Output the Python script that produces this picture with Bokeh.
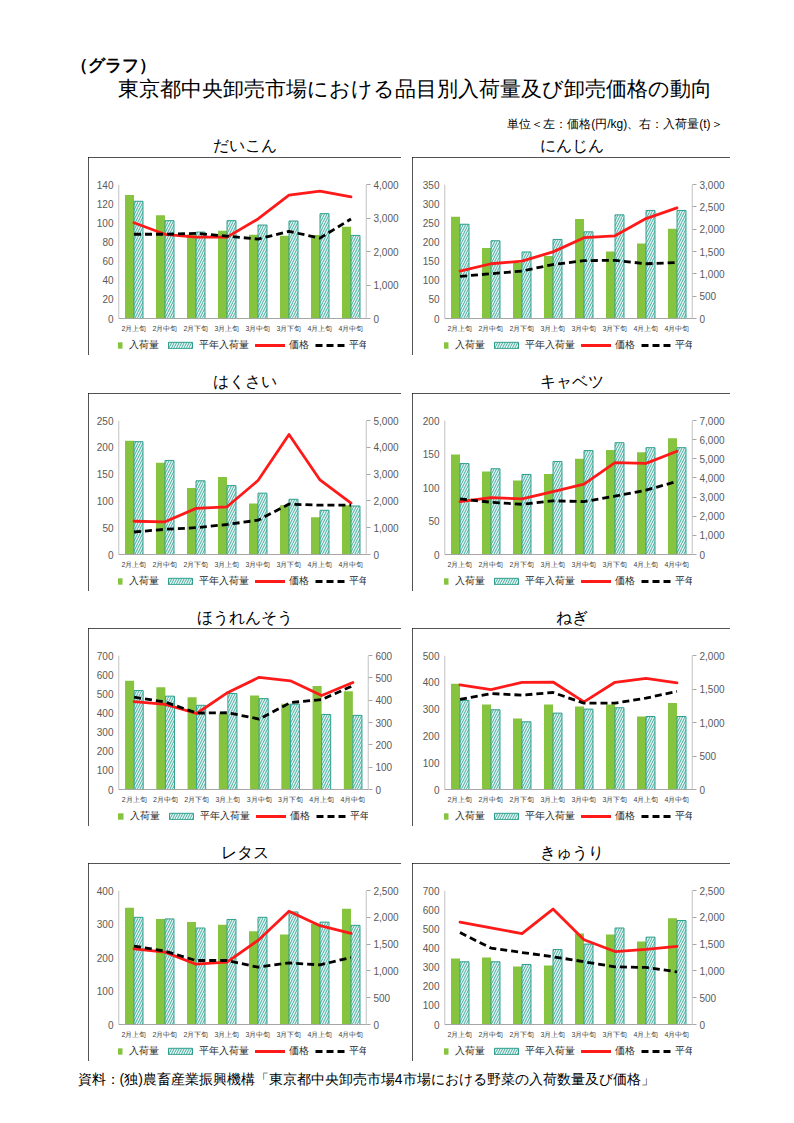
from bokeh.plotting import figure
from bokeh.models import (Range1d, LinearAxis, FactorRange, ColumnDataSource, Legend,
                          LegendItem, Label, Spacer, FixedTicker, Span)
from bokeh.layouts import column, row
from bokeh.transform import dodge
from bokeh.core.properties import value
from bokeh.embed import file_html
from bokeh.resources import INLINE

# ---------------- data ----------------
categories = ["2月上旬", "2月中旬", "2月下旬", "3月上旬", "3月中旬", "3月下旬", "4月上旬", "4月中旬"]

item_names = ["だいこん", "にんじん", "はくさい", "キャベツ", "ほうれんそう", "ねぎ", "レタス", "きゅうり"]

# 入荷量 (t) — right axis
daikon_qty = [3690, 3080, 2510, 2620, 2500, 2470, 2490, 2740]
daikon_qty_avg = [3500, 2920, 2580, 2920, 2790, 2910, 3130, 2480]
# 価格 (円/kg) — left axis
daikon_price = [100, 88, 85, 85, 104, 129, 133, 127]
daikon_price_avg = [88, 88, 89, 86, 83, 91, 84, 104]

ninjin_qty = [2280, 1580, 1240, 1400, 2230, 1500, 1680, 2010]
ninjin_qty_avg = [2110, 1740, 1490, 1770, 1940, 2320, 2420, 2420]
ninjin_price = [124, 143, 150, 174, 211, 216, 261, 289]
ninjin_price_avg = [110, 117, 124, 141, 151, 152, 143, 146]

hakusai_qty = [4240, 3420, 2480, 2890, 1900, 1840, 1390, 1840]
hakusai_qty_avg = [4210, 3510, 2750, 2570, 2290, 2060, 1650, 1810]
hakusai_price = [62, 61, 86, 89, 138, 224, 139, 96]
hakusai_price_avg = [42, 47, 50, 56, 64, 94, 92, 92]

cabbage_qty = [5220, 4340, 3870, 4200, 5000, 5460, 5340, 6070]
cabbage_qty_avg = [4750, 4480, 4180, 4860, 5430, 5840, 5580, 5580]
cabbage_price = [79, 85, 83, 94, 105, 137, 136, 154]
cabbage_price_avg = [83, 78, 75, 80, 79, 87, 96, 109]

spinach_qty = [487, 458, 413, 339, 421, 384, 463, 440]
spinach_qty_avg = [443, 418, 377, 430, 407, 382, 336, 332]
spinach_price = [459, 445, 397, 507, 586, 568, 491, 559]
spinach_price_avg = [482, 457, 399, 401, 368, 454, 470, 542]

negi_qty = [1580, 1270, 1060, 1270, 1240, 1270, 1090, 1290]
negi_qty_avg = [1330, 1190, 1010, 1140, 1200, 1220, 1090, 1090]
negi_price = [390, 373, 400, 401, 327, 400, 415, 398]
negi_price_avg = [336, 358, 352, 362, 322, 322, 341, 366]

lettuce_qty = [2180, 1970, 1910, 1860, 1740, 1680, 1880, 2160]
lettuce_qty_avg = [2000, 1970, 1800, 1960, 2000, 2100, 1910, 1850]
lettuce_price = [226, 216, 180, 186, 251, 338, 295, 272]
lettuce_price_avg = [234, 219, 191, 191, 171, 184, 178, 200]

kyuri_qty = [1230, 1250, 1080, 1100, 1700, 1680, 1550, 1980]
kyuri_qty_avg = [1170, 1170, 1120, 1400, 1500, 1800, 1630, 1940]
kyuri_price = [535, 505, 475, 603, 443, 381, 392, 408]
kyuri_price_avg = [480, 399, 376, 354, 328, 301, 298, 275]

# axis ranges: left (price) max / step, right (quantity) max / step
price_axis_max = [140, 350, 250, 200, 700, 500, 400, 700]
price_axis_step = [20, 50, 50, 50, 100, 100, 100, 100]
qty_axis_max = [4000, 3000, 5000, 7000, 600, 2000, 2500, 2500]
qty_axis_step = [1000, 500, 1000, 1000, 100, 500, 500, 500]

legend_labels = ["入荷量", "平年入荷量", "価格", "平年価格"]

# ---------------- style / layout ----------------
GREEN = "#86c440"
HFILL = "#e4f4f3"
HLINE = "#2e9f8c"
HATCH = "#45ad9e"
RED = "#ff1a1a"
AXIS_GRAY = "#a6a6a6"
TICK_TEXT = "#595959"
PANEL_H = 198
PLOT_PX = 134          # pixel height of the 0..max part of each chart
BELOW_PX = 35          # room under zero for category labels and legend
PAD = BELOW_PX / PLOT_PX
LABEL_OFF = 10 / PLOT_PX

series = [
    (daikon_qty, daikon_qty_avg, daikon_price, daikon_price_avg),
    (ninjin_qty, ninjin_qty_avg, ninjin_price, ninjin_price_avg),
    (hakusai_qty, hakusai_qty_avg, hakusai_price, hakusai_price_avg),
    (cabbage_qty, cabbage_qty_avg, cabbage_price, cabbage_price_avg),
    (spinach_qty, spinach_qty_avg, spinach_price, spinach_price_avg),
    (negi_qty, negi_qty_avg, negi_price, negi_price_avg),
    (lettuce_qty, lettuce_qty_avg, lettuce_price, lettuce_price_avg),
    (kyuri_qty, kyuri_qty_avg, kyuri_price, kyuri_price_avg),
]


def make_panel(i):
    qty, qty_avg, price, price_avg = series[i]
    pmax = price_axis_max[i]
    qmax = qty_axis_max[i]
    left_col = (i % 2 == 0)
    width = 313 if left_col else 318
    bl = 30 if left_col else 32
    br = 33 if left_col else 38
    src = ColumnDataSource(dict(cat=categories, qty=qty, qty_avg=qty_avg,
                                price=price, price_avg=price_avg,
                                lab_y=[-pmax * LABEL_OFF] * len(categories)))
    p = figure(x_range=FactorRange(factors=categories),
               y_range=Range1d(-pmax * PAD, pmax),
               width=width, height=PANEL_H, output_backend="svg", toolbar_location=None,
               x_axis_location=None,
               min_border_left=bl, min_border_right=br, min_border_top=27, min_border_bottom=2,
               styles={"outline": "1px solid #1a1a1a", "outline-offset": "-1px"})
    p.extra_y_ranges = {"q": Range1d(-qmax * PAD, qmax)}
    p.outline_line_color = None
    p.xgrid.visible = False
    p.ygrid.visible = False

    rb1 = p.vbar(x=dodge("cat", -0.145, range=p.x_range), top="qty", bottom=0, width=0.29,
                 y_range_name="q", source=src, fill_color=GREEN, line_color=None)
    rb2 = p.vbar(x=dodge("cat", 0.145, range=p.x_range), top="qty_avg", bottom=0, width=0.29,
                 y_range_name="q", source=src, fill_color=HFILL, line_color=HLINE, line_width=1,
                 hatch_pattern="/", hatch_color=HATCH, hatch_scale=5, hatch_weight=1)
    rl1 = p.line(x="cat", y="price", source=src, line_color=RED, line_width=2.8,
                 line_join="round", line_cap="round")
    rl2 = p.line(x="cat", y="price_avg", source=src, line_color="black", line_width=2.8,
                 line_dash="7 4", line_join="round")

    # axis lines (zero line and vertical lines from 0 to max)
    p.add_layout(Span(location=0, dimension="width", line_color=AXIS_GRAY, line_width=1))
    edge = ColumnDataSource(dict(first=[categories[0]], last=[categories[-1]],
                                 y0=[0], y1=[pmax]))
    p.segment(x0=dodge("first", -0.497, range=p.x_range), x1=dodge("first", -0.497, range=p.x_range),
              y0="y0", y1="y1", source=edge, line_color=AXIS_GRAY, line_width=1.2)
    p.segment(x0=dodge("last", 0.497, range=p.x_range), x1=dodge("last", 0.497, range=p.x_range),
              y0="y0", y1="y1", source=edge, line_color=AXIS_GRAY, line_width=1.2)

    # category labels under the zero line
    p.text(x="cat", y="lab_y", text="cat", source=src, text_align="center",
           text_baseline="middle", text_font_size=value("7px"), text_color="#404040")

    # left axis (price)
    left_ticks = list(range(0, pmax + 1, price_axis_step[i]))
    ya = p.yaxis[0]
    ya.ticker = FixedTicker(ticks=left_ticks)
    ya.axis_line_color = None
    ya.major_tick_out = 0
    ya.major_tick_in = 0
    ya.minor_tick_line_color = None
    ya.major_label_standoff = 5
    ya.major_label_text_font_size = "10px"
    ya.major_label_text_color = TICK_TEXT

    # right axis (quantity)
    right_ticks = list(range(0, qmax + 1, qty_axis_step[i]))
    ra = LinearAxis(y_range_name="q", ticker=FixedTicker(ticks=right_ticks))
    ra.major_label_overrides = {t: f"{t:,}" for t in right_ticks}
    ra.axis_line_color = None
    ra.major_tick_out = 4
    ra.major_tick_in = 0
    ra.major_tick_line_color = AXIS_GRAY
    ra.minor_tick_line_color = None
    ra.major_label_standoff = 3
    ra.major_label_text_font_size = "10px"
    ra.major_label_text_color = TICK_TEXT
    p.add_layout(ra, "right")

    legend = Legend(items=[LegendItem(label=legend_labels[0], renderers=[rb1]),
                           LegendItem(label=legend_labels[1], renderers=[rb2]),
                           LegendItem(label=legend_labels[2], renderers=[rl1]),
                           LegendItem(label=legend_labels[3], renderers=[rl2])],
                    orientation="horizontal", location="bottom_center",
                    glyph_width=30, glyph_height=8, label_height=10, label_standoff=4,
                    spacing=6, padding=3, margin=1, border_line_color=None,
                    background_fill_alpha=0,
                    label_text_font_size="10px", label_text_color="#262626")
    p.add_layout(legend)
    return p


def text_fig(width, height):
    f = figure(width=width, height=height, x_range=Range1d(0, width), y_range=Range1d(0, height),
               x_axis_type=None, y_axis_type=None, min_border=0, toolbar_location=None,
               output_backend="svg", outline_line_color=None)
    f.grid.visible = False
    return f


# header
header = text_fig(778, 132)
header.add_layout(Label(x=70, y=67, text="（グラフ）", text_font_size="17px",
                        text_font_style="bold", text_baseline="middle", text_color="black"))
header.add_layout(Label(x=414, y=44, text="東京都中央卸売市場における品目別入荷量及び卸売価格の動向",
                        text_font_size="21px", text_align="center",
                        text_baseline="middle", text_color="black"))
header.add_layout(Label(x=722, y=9, text="単位＜左：価格(円/kg)、右：入荷量(t)＞",
                        text_font_size="12px", text_align="right",
                        text_baseline="middle", text_color="black"))


def title_row(height, ypos, left_name, right_name):
    f = text_fig(778, height)
    f.add_layout(Label(x=244.5, y=ypos, text=left_name, text_font_size="16px",
                       text_align="center", text_baseline="middle", text_color="black"))
    f.add_layout(Label(x=571, y=ypos, text=right_name, text_font_size="16px",
                       text_align="center", text_baseline="middle", text_color="black"))
    return f


footer = text_fig(778, 34)
footer.add_layout(Label(x=77, y=17, text="資料：(独)農畜産業振興機構「東京都中央卸売市場4市場における野菜の入荷数量及び価格」",
                        text_font_size="14px", text_baseline="middle", text_color="black"))

panels = [make_panel(i) for i in range(8)]
title_heights = [25, 38, 37, 37]
title_ypos = [12, 12, 11, 11]

children = [header]
for r in range(4):
    children.append(title_row(title_heights[r], title_ypos[r], item_names[2 * r], item_names[2 * r + 1]))
    children.append(row(Spacer(width=88, height=PANEL_H), panels[2 * r],
                        Spacer(width=11, height=PANEL_H), panels[2 * r + 1]))
children.append(footer)

layout = column(*children)

open("out.html", "w").write(file_html(layout, INLINE))
